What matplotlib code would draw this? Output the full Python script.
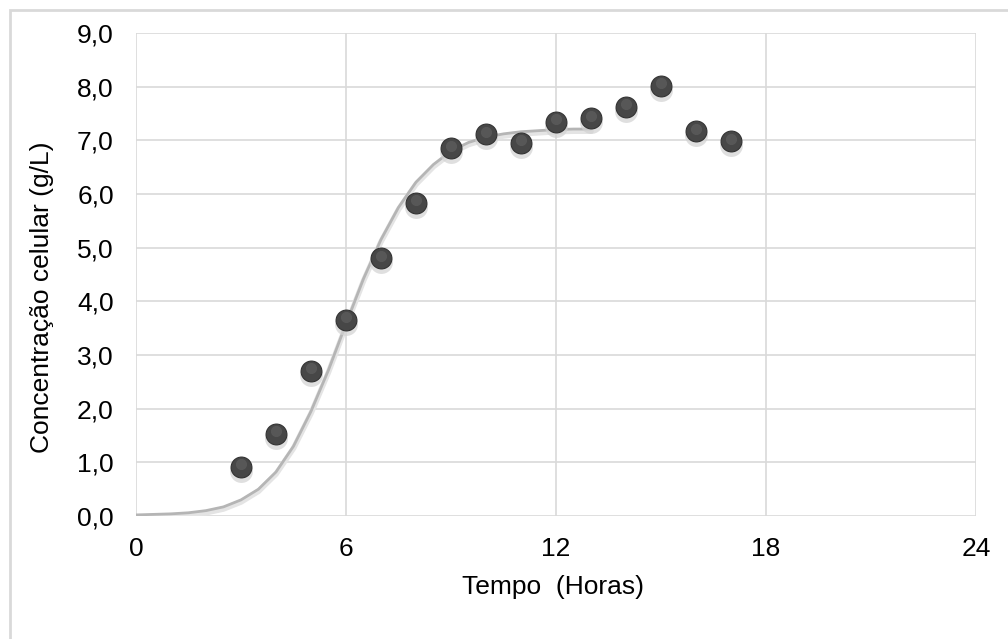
import matplotlib
matplotlib.use("Agg")
import matplotlib.pyplot as plt
from matplotlib.patches import Rectangle
from matplotlib.ticker import FuncFormatter

plt.rcParams['font.family'] = ['Liberation Sans', 'DejaVu Sans']

# Experimental points (hours, g/L)
tempo = [3, 4, 5, 6, 7, 8, 9, 10, 11, 12, 13, 14, 15, 16, 17]
concentracao = [0.91, 1.53, 2.70, 3.65, 4.80, 5.83, 6.85, 7.11, 6.95,
                7.34, 7.41, 7.62, 8.01, 7.17, 6.98]

# Model curve, every half hour
tempo_modelo = [0, 0.5, 1, 1.5, 2, 2.5, 3, 3.5, 4, 4.5, 5, 5.5, 6, 6.5,
                7, 7.5, 8, 8.5, 9, 9.5, 10, 10.5, 11, 11.5, 12, 12.5, 13]
conc_modelo = [0.02, 0.03, 0.04, 0.06, 0.10, 0.17, 0.30, 0.50, 0.82, 1.30,
               1.95, 2.72, 3.58, 4.42, 5.15, 5.75, 6.22, 6.55, 6.80, 6.96,
               7.06, 7.12, 7.16, 7.18, 7.20, 7.21, 7.21]

fig = plt.figure(figsize=(10.08, 6.39), dpi=100)
ax = fig.add_axes([0.1349, 0.1925, 0.8334, 0.7559])

# outer chart frame (light grey, open at right/bottom)
fig.patches.append(Rectangle((10 / 1008, -0.1), 1.2, 1 - 10 / 639 + 0.1,
                             transform=fig.transFigure, fill=False,
                             edgecolor='#d9d9d9', linewidth=2, zorder=0))

# model line with soft shadow
ax.plot(tempo_modelo, [v - 0.04 for v in conc_modelo], color='#e4e4e4',
        linewidth=4, solid_capstyle='round', zorder=2)
ax.plot(tempo_modelo, conc_modelo, color='#b5b5b5', linewidth=2,
        solid_capstyle='round', zorder=3)

# spheres: shadow, body, soft highlight
ax.plot(tempo, [v - 0.07 for v in concentracao], 'o', color='#d2d2d2',
        markersize=16.5, alpha=0.7, markeredgewidth=0, zorder=4)
ax.plot(tempo, concentracao, 'o', color='#474747', markersize=15,
        markeredgecolor='#333333', markeredgewidth=0.8, zorder=5)
ax.plot(tempo, [v + 0.05 for v in concentracao], 'o', color='#5c5c5c',
        markersize=8, markeredgewidth=0, alpha=0.8, zorder=6)

ax.set_xlim(0, 24)
ax.set_ylim(0, 9)
ax.set_xticks([0, 6, 12, 18, 24])
ax.set_yticks(range(0, 10))
ax.yaxis.set_major_formatter(FuncFormatter(lambda v, p: f"{v:.1f}".replace('.', ',')))

ax.grid(True, color='#d9d9d9', linewidth=1.2, zorder=0)
ax.set_axisbelow(True)
for s in ax.spines.values():
    s.set_visible(False)
ax.tick_params(length=0, labelsize=19)
ax.tick_params(axis='y', pad=16)
ax.tick_params(axis='x', pad=15)

ax.set_xlabel('Tempo  (Horas)', fontsize=19, va='center')
ax.set_ylabel('Concentração celular (g/L)', fontsize=19, va='center')
ax.xaxis.set_label_coords(0.497, -0.147)
ax.yaxis.set_label_coords(-0.112, 0.453)

fig.savefig('out.png', dpi=100)
